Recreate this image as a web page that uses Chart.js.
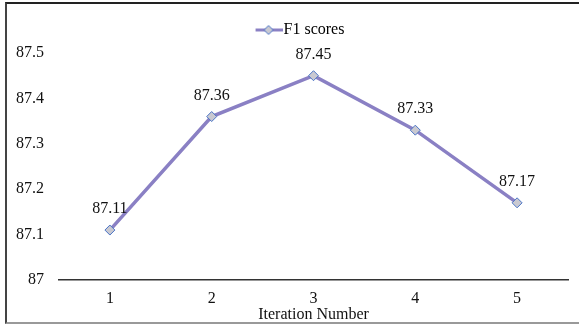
<!DOCTYPE html>
<html>
<head>
<meta charset="utf-8">
<script src="https://cdn.jsdelivr.net/npm/chart.js@4.4.1/dist/chart.umd.min.js"></script>
<style>
  html, body { margin: 0; padding: 0; background: #fff; }
  #wrap { position: relative; width: 579px; height: 327px; overflow: hidden; }
  #frame { position: absolute; left: 5px; top: 2px; width: 640px; height: 322px;
           border-top: 2px solid #222; border-left: 2px solid #444; border-bottom: 2px solid #999; box-sizing: border-box; }
  canvas { position: absolute; left: 0; top: 0; }
</style>
</head>
<body>
<div id="wrap">
  <div id="frame"></div>
  <canvas id="f1" width="579" height="327"></canvas>
</div>
<script>
var iterations = ['1', '2', '3', '4', '5'];
var f1Scores = [87.11, 87.36, 87.45, 87.33, 87.17];
var yTicks = [87, 87.1, 87.2, 87.3, 87.4, 87.5];

var lineColor = '#8a80c4';
var markerFill = '#c9c9d1';
var markerEdge = '#4a74c6';
var serif = "'Liberation Serif', 'Times New Roman', serif";

// legend icon: line with a diamond, pushed to the right so it touches the text
var legendBox = 51;
var icon = document.createElement('canvas');
icon.width = legendBox + 14; icon.height = 12;
var ic = icon.getContext('2d');
var x0 = icon.width - 27, xc = icon.width - 14;
ic.strokeStyle = lineColor; ic.lineWidth = 3;
ic.beginPath(); ic.moveTo(x0, 6); ic.lineTo(icon.width, 6); ic.stroke();
ic.beginPath(); ic.moveTo(xc, 1.5); ic.lineTo(xc + 4.5, 6); ic.lineTo(xc, 10.5); ic.lineTo(xc - 4.5, 6); ic.closePath();
ic.fillStyle = markerFill; ic.fill();
ic.strokeStyle = markerEdge; ic.lineWidth = 1; ic.stroke();

var valueLabels = {
  id: 'valueLabels',
  afterDatasetsDraw: function(chart) {
    var ctx = chart.ctx;
    var meta = chart.getDatasetMeta(0);
    ctx.save();
    ctx.font = '16px ' + serif;
    ctx.fillStyle = '#111';
    ctx.textAlign = 'center';
    ctx.textBaseline = 'middle';
    meta.data.forEach(function(pt, i) {
      ctx.fillText(f1Scores[i].toFixed(2), pt.x, pt.y - 21);
    });
    ctx.restore();
  }
};

// extra room under the legend
var legendGap = {
  id: 'legendGap',
  beforeInit: function(chart) {
    var fit = chart.legend.fit;
    chart.legend.fit = function() {
      fit.bind(chart.legend)();
      this.height += 5;
    };
  }
};

var ctx = document.getElementById('f1');
var chart = new Chart(ctx, {
  type: 'line',
  data: {
    labels: iterations,
    datasets: [{
      label: 'F1 scores',
      data: f1Scores,
      borderColor: lineColor,
      borderWidth: 3.5,
      backgroundColor: markerFill,
      pointStyle: 'rectRot',
      pointRadius: 5,
      pointBorderColor: markerEdge,
      pointBorderWidth: 1,
      pointBackgroundColor: markerFill,
      tension: 0
    }]
  },
  options: {
    responsive: false,
    animation: false,
    layout: { padding: { left: 1, right: 11, top: 16, bottom: 4 } },
    plugins: {
      legend: {
        display: true,
        position: 'top',
        labels: {
          usePointStyle: true,
          pointStyleWidth: legendBox,
          boxWidth: legendBox,
          color: '#111',
          font: { family: serif, size: 16 },
          padding: 6,
          generateLabels: function(c) {
            return [{ text: 'F1 scores', pointStyle: icon, fillStyle: markerFill, strokeStyle: markerEdge,
                      lineWidth: 0, hidden: false, datasetIndex: 0 }];
          }
        }
      },
      tooltip: { enabled: false }
    },
    scales: {
      x: {
        offset: true,
        grid: { display: false, drawTicks: false },
        border: { display: true, color: '#333', width: 1.5 },
        ticks: { color: '#111', font: { family: serif, size: 16, lineHeight: 1 }, padding: 11 },
        title: { display: true, text: 'Iteration Number', color: '#111',
                 font: { family: serif, size: 16, lineHeight: 1 }, padding: { top: -11, bottom: 0 } }
      },
      y: {
        min: 87,
        max: 87.5,
        afterBuildTicks: function(axis) {
          axis.ticks = yTicks.map(function(v) { return { value: v }; });
        },
        grid: { display: false, drawTicks: false },
        border: { display: false },
        ticks: {
          color: '#111',
          font: { family: serif, size: 16 },
          padding: 15,
          callback: function(v) { return String(Math.round(v * 10) / 10); }
        }
      }
    }
  },
  plugins: [valueLabels, legendGap]
});
</script>
</body>
</html>
